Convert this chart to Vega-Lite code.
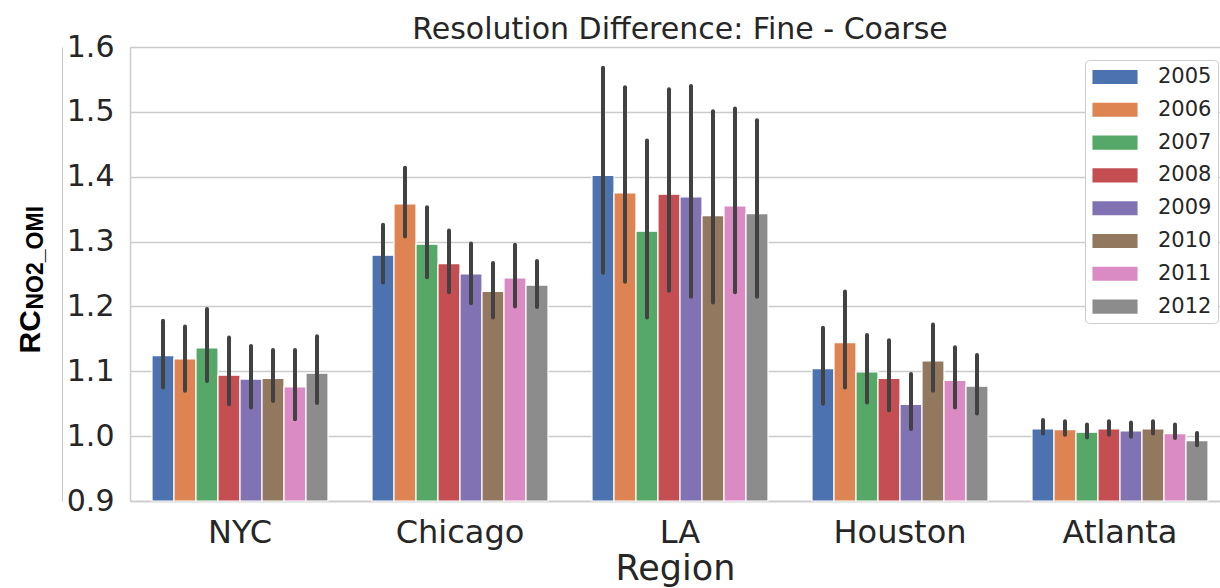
{
  "$schema": "https://vega.github.io/schema/vega-lite/v6.json",
  "width": 1090,
  "height": 454,
  "autosize": {"type": "none"},
  "padding": {"left": 130, "top": 47, "right": 0, "bottom": 87},
  "background": "white",
  "title": {
    "text": "Resolution Difference: Fine - Coarse",
    "font": "DejaVu Sans",
    "fontSize": 30,
    "fontWeight": "normal",
    "color": "#262626",
    "anchor": "middle",
    "baseline": "alphabetic",
    "offset": 7,
    "dx": 5,
    "dy": 44
  },
  "data": {
    "values": [
      {"region": "NYC", "year": "2005", "value": 1.124, "lo": 1.075, "hi": 1.178},
      {"region": "NYC", "year": "2006", "value": 1.119, "lo": 1.070, "hi": 1.169},
      {"region": "NYC", "year": "2007", "value": 1.136, "lo": 1.085, "hi": 1.196},
      {"region": "NYC", "year": "2008", "value": 1.094, "lo": 1.049, "hi": 1.152},
      {"region": "NYC", "year": "2009", "value": 1.088, "lo": 1.044, "hi": 1.139},
      {"region": "NYC", "year": "2010", "value": 1.089, "lo": 1.054, "hi": 1.133},
      {"region": "NYC", "year": "2011", "value": 1.076, "lo": 1.026, "hi": 1.133},
      {"region": "NYC", "year": "2012", "value": 1.097, "lo": 1.051, "hi": 1.154},
      {"region": "Chicago", "year": "2005", "value": 1.279, "lo": 1.237, "hi": 1.326},
      {"region": "Chicago", "year": "2006", "value": 1.358, "lo": 1.308, "hi": 1.414},
      {"region": "Chicago", "year": "2007", "value": 1.296, "lo": 1.245, "hi": 1.353},
      {"region": "Chicago", "year": "2008", "value": 1.266, "lo": 1.222, "hi": 1.317},
      {"region": "Chicago", "year": "2009", "value": 1.250, "lo": 1.205, "hi": 1.297},
      {"region": "Chicago", "year": "2010", "value": 1.223, "lo": 1.183, "hi": 1.267},
      {"region": "Chicago", "year": "2011", "value": 1.244, "lo": 1.200, "hi": 1.295},
      {"region": "Chicago", "year": "2012", "value": 1.233, "lo": 1.199, "hi": 1.270},
      {"region": "LA", "year": "2005", "value": 1.402, "lo": 1.252, "hi": 1.568},
      {"region": "LA", "year": "2006", "value": 1.375, "lo": 1.238, "hi": 1.538},
      {"region": "LA", "year": "2007", "value": 1.316, "lo": 1.183, "hi": 1.456},
      {"region": "LA", "year": "2008", "value": 1.373, "lo": 1.224, "hi": 1.535},
      {"region": "LA", "year": "2009", "value": 1.369, "lo": 1.215, "hi": 1.540},
      {"region": "LA", "year": "2010", "value": 1.340, "lo": 1.206, "hi": 1.501},
      {"region": "LA", "year": "2011", "value": 1.355, "lo": 1.222, "hi": 1.505},
      {"region": "LA", "year": "2012", "value": 1.343, "lo": 1.215, "hi": 1.487},
      {"region": "Houston", "year": "2005", "value": 1.104, "lo": 1.050, "hi": 1.167},
      {"region": "Houston", "year": "2006", "value": 1.144, "lo": 1.075, "hi": 1.223},
      {"region": "Houston", "year": "2007", "value": 1.099, "lo": 1.052, "hi": 1.156},
      {"region": "Houston", "year": "2008", "value": 1.089, "lo": 1.040, "hi": 1.148},
      {"region": "Houston", "year": "2009", "value": 1.049, "lo": 1.011, "hi": 1.096},
      {"region": "Houston", "year": "2010", "value": 1.116, "lo": 1.070, "hi": 1.172},
      {"region": "Houston", "year": "2011", "value": 1.086, "lo": 1.044, "hi": 1.137},
      {"region": "Houston", "year": "2012", "value": 1.077, "lo": 1.035, "hi": 1.125},
      {"region": "Atlanta", "year": "2005", "value": 1.011, "lo": 1.004, "hi": 1.025},
      {"region": "Atlanta", "year": "2006", "value": 1.010, "lo": 1.002, "hi": 1.023},
      {"region": "Atlanta", "year": "2007", "value": 1.006, "lo": 0.998, "hi": 1.018},
      {"region": "Atlanta", "year": "2008", "value": 1.011, "lo": 1.002, "hi": 1.023},
      {"region": "Atlanta", "year": "2009", "value": 1.008, "lo": 0.999, "hi": 1.021},
      {"region": "Atlanta", "year": "2010", "value": 1.011, "lo": 1.004, "hi": 1.023},
      {"region": "Atlanta", "year": "2011", "value": 1.004, "lo": 0.997, "hi": 1.018},
      {"region": "Atlanta", "year": "2012", "value": 0.993, "lo": 0.986, "hi": 1.005}
    ]
  },
  "encoding": {
    "x": {
      "field": "region",
      "type": "nominal",
      "sort": ["NYC", "Chicago", "LA", "Houston", "Atlanta"],
      "scale": {"paddingInner": 0.2, "paddingOuter": 0.0773, "align": 0.647},
      "axis": {
        "title": "Region",
        "labelAngle": 0,
        "labelFont": "DejaVu Sans",
        "labelFontSize": 32,
        "labelColor": "#262626",
        "labelPadding": 16,
        "titleFont": "DejaVu Sans",
        "titleFontSize": 35,
        "titleFontWeight": "normal",
        "titleColor": "#262626",
        "titlePadding": 3,
        "ticks": false,
        "domainColor": "#cccccc",
        "domainWidth": 1.5,
        "grid": false
      }
    },
    "xOffset": {
      "field": "year",
      "type": "nominal",
      "scale": {"paddingInner": 0, "paddingOuter": 0}
    }
  },
  "layer": [
    {
      "mark": {"type": "bar", "stroke": "white", "strokeWidth": 1.2},
      "encoding": {
        "y": {
          "field": "value",
          "type": "quantitative",
          "scale": {"domain": [0.9, 1.6], "nice": false, "zero": false},
          "axis": {
            "title": "RC",
            "titleFont": "Liberation Sans",
            "titleFontSize": 30,
            "titleFontWeight": "bold",
            "titleColor": "#000000",
            "titleAngle": -90,
            "titleAlign": "left",
            "titleBaseline": "alphabetic",
            "titleX": -91,
            "titleY": 306,
            "values": [0.9, 1.0, 1.1, 1.2, 1.3, 1.4, 1.5, 1.6],
            "format": ".1f",
            "labelFont": "DejaVu Sans",
            "labelFontSize": 30,
            "labelColor": "#262626",
            "labelPadding": 16,
            "ticks": false,
            "domainColor": "#cccccc",
            "domainWidth": 1.5,
            "gridColor": "#cccccc",
            "gridWidth": 1.3
          }
        },
        "y2": {"datum": 0.9},
        "color": {
          "field": "year",
          "type": "nominal",
          "scale": {
            "domain": ["2005", "2006", "2007", "2008", "2009", "2010", "2011", "2012"],
            "range": ["#4C72B0", "#DD8452", "#55A868", "#C44E52", "#8172B3", "#937860", "#DA8BC3", "#8C8C8C"]
          },
          "legend": {
            "title": null,
            "orient": "none",
            "legendX": 955,
            "legendY": 13,
            "symbolType": "M-2.05,-0.64L2.05,-0.64L2.05,0.64L-2.05,0.64Z",
            "symbolSize": 484,
            "symbolStrokeWidth": 0,
            "symbolOpacity": 1,
            "symbolOffset": 13,
            "labelFont": "DejaVu Sans",
            "labelFontSize": 21,
            "labelColor": "#262626",
            "labelOffset": 32,
            "rowPadding": 11.8,
            "padding": 6,
            "strokeColor": "#cccccc",
            "fillColor": "white",
            "cornerRadius": 4
          }
        }
      }
    },
    {
      "mark": {"type": "rule", "color": "#424242", "strokeWidth": 4, "strokeCap": "round"},
      "encoding": {
        "y": {
          "field": "lo",
          "type": "quantitative",
          "axis": {
            "title": "NO2_OMI",
            "titleFont": "Liberation Sans",
            "titleFontSize": 23,
            "titleFontWeight": "bold",
            "titleColor": "#000000",
            "titleAngle": -90,
            "titleAlign": "left",
            "titleBaseline": "alphabetic",
            "titleX": -20,
            "titleY": 262,
            "orient": "left",
            "offset": 68,
            "labels": false,
            "ticks": false,
            "domain": true,
            "domainColor": "#c4c4c4",
            "domainWidth": 1,
            "grid": false
          }
        },
        "y2": {"field": "hi"}
      }
    }
  ],
  "resolve": {"axis": {"y": "independent"}},
  "config": {
    "view": {"stroke": null}
  }
}
